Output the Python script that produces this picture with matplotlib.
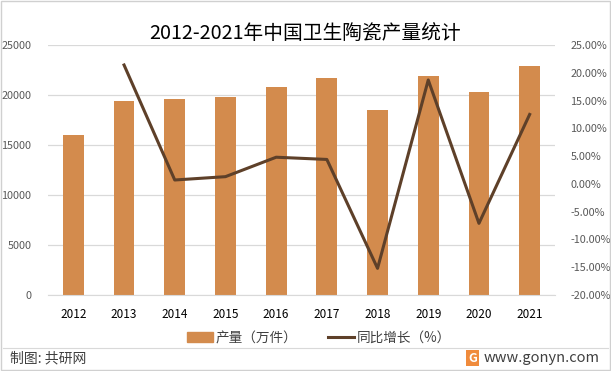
import numpy as np
import matplotlib.pyplot as plt
from matplotlib.patches import Rectangle
from matplotlib.lines import Line2D

plt.rcParams['font.family'] = ['Noto Sans CJK SC', 'DejaVu Sans']

years = ['2012', '2013', '2014', '2015', '2016', '2017', '2018', '2019', '2020', '2021']
output = [16000, 19400, 19600, 19800, 20800, 21700, 18500, 21900, 20300, 22900]
growth = [None, 21.4, 0.7, 1.3, 4.8, 4.4, -15.2, 18.7, -7.1, 12.5]

bar_color = '#D38B4D'
line_color = '#5E4029'

fig = plt.figure(figsize=(6.11, 3.71), dpi=100)
W, H = 611, 371
ax = fig.add_axes([48 / W, 1 - 295 / H, (555 - 48) / W, (295 - 45) / H])
ax2 = ax.twinx()

x = np.arange(len(years))
ax.bar(x, output, width=0.41, color=bar_color, zorder=2)
ax.set_xlim(-0.5, len(years) - 0.5)
ax.set_ylim(0, 25000)
ax.set_yticks(np.arange(0, 25001, 5000))
ax.yaxis.grid(True, color='#D9D9D9', lw=0.9, zorder=0)
ax.set_axisbelow(True)
ax.set_xticks(x)
ax.set_xticklabels(years)

gx = [i for i, g in enumerate(growth) if g is not None]
gy = [g for g in growth if g is not None]
ax2.plot(gx, gy, color=line_color, lw=2.2, zorder=3)
ax2.set_ylim(-20, 25)
ax2.set_yticks(np.arange(-20, 25.1, 5))
ax2.set_yticklabels(['%.2f%%' % v for v in np.arange(-20, 25.1, 5)])

for a in (ax, ax2):
    for s in a.spines.values():
        s.set_visible(False)
    a.tick_params(length=0, labelsize=7.8, colors='#595959')
ax.spines['bottom'].set_visible(True)
ax.spines['bottom'].set_color('#D9D9D9')
ax.tick_params(axis='x', pad=9, colors='#000000', labelsize=8.5)
ax.tick_params(axis='y', pad=12)
ax2.tick_params(axis='y', pad=11)

fig.text(0.5, 1 - 33 / H, '2012-2021年中国卫生陶瓷产量统计', ha='center', va='center',
         fontsize=14.2, color='#000000')

handles = [Rectangle((0, 0), 1, 1, color=bar_color),
           Line2D([0], [0], color=line_color, lw=2.2)]
fig.legend(handles, ['产量（万件）', '同比增长（%）'], loc='center',
           bbox_to_anchor=(319 / W, 1 - 338 / H), ncol=2, frameon=False,
           fontsize=9.8, handlelength=1.9, handletextpad=0.2, columnspacing=2.3,
           labelcolor='#404040')

fig.add_artist(Line2D([3 / W, 608 / W], [1 - 348 / H, 1 - 348 / H],
                      color='#D9D9D9', lw=0.8))
fig.text(10 / W, 1 - 358 / H, '制图: 共研网', ha='left', va='center',
         fontsize=10, color='#404040')
fig.text(468 / W, 1 - 358 / H, 'G', ha='left', va='center', fontsize=9,
         color='white', fontweight='bold',
         bbox=dict(boxstyle='square,pad=0.15', fc='#F08B3C', ec='none'))
fig.text(600 / W, 1 - 358 / H, 'www.gonyn.com', ha='right', va='center',
         fontsize=10.5, color='#404040')
fig.add_artist(Rectangle((1 / W, 1 / H), 609 / W, 369 / H, fill=False,
                         ec='#D0D0D0', lw=1, transform=fig.transFigure))

fig.savefig('out.png', dpi=100)
